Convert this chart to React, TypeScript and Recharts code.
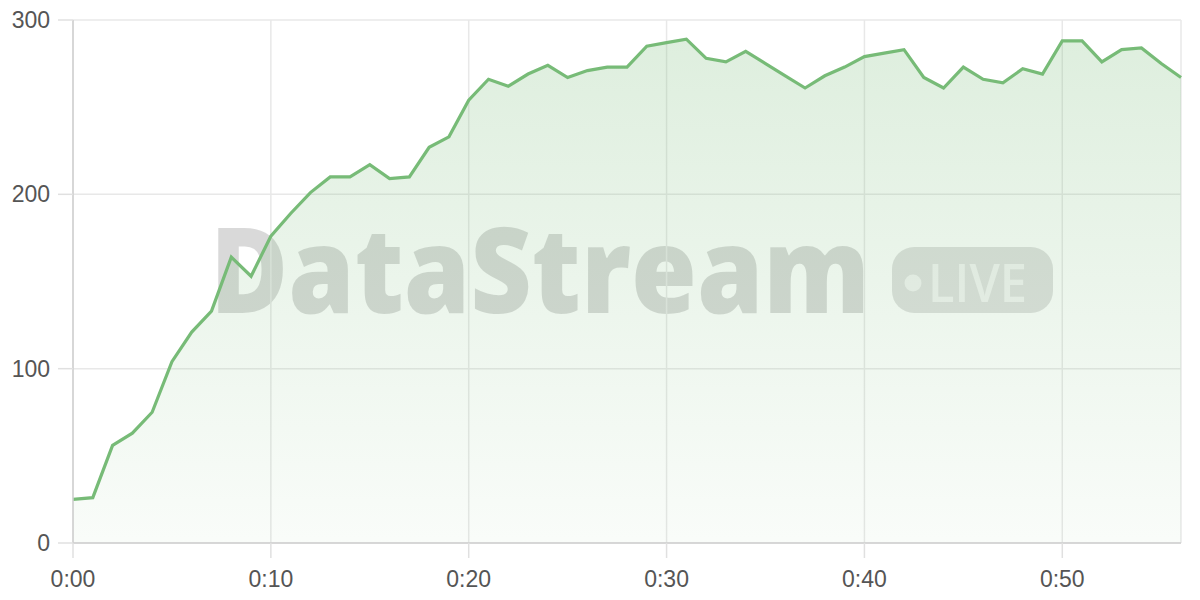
import React from 'react'
import { AreaChart, Area, XAxis, YAxis, CartesianGrid } from 'recharts'

// minutes since start of stream
const minutes = [
  0, 1, 2, 3, 4, 5, 6, 7, 8, 9, 10, 11, 12, 13, 14, 15, 16, 17, 18, 19, 20, 21, 22, 23, 24, 25, 26, 27, 28,
  29, 30, 31, 32, 33, 34, 35, 36, 37, 38, 39, 40, 41, 42, 43, 44, 45, 46, 47, 48, 49, 50, 51, 52, 53, 54,
  55, 56,
]

// live viewers
const viewers = [
  25, 26, 56, 63, 75, 104, 121, 133, 164, 153, 176, 189, 201, 210, 210, 217, 209, 210, 227, 233, 254, 266,
  262, 269, 274, 267, 271, 273, 273, 285, 287, 289, 278, 276, 282, 275, 268, 261, 268, 273, 279, 281, 283,
  267, 261, 273, 266, 264, 272, 269, 288, 288, 276, 283, 284, 275, 267,
]

const xTicks = [0, 10, 20, 30, 40, 50]
const xTickLabels = ['0:00', '0:10', '0:20', '0:30', '0:40', '0:50']
const yTicks = [0, 100, 200, 300]

const data = minutes.map((m, i) => ({ minute: m, viewers: viewers[i] }))

const tickStyle = { fill: '#555', fontSize: 23, fontFamily: 'Liberation Sans, Arial, sans-serif' }

export default function App() {
  return (
    <div style={{ position: 'absolute', left: 0, top: 0, width: 1200, height: 600, background: '#fff' }}>
      {/* watermark sits behind the chart so the area tints it */}
      <svg width={1200} height={600} style={{ position: 'absolute', left: 0, top: 0 }}>
        <text
          x={210}
          y={313}
          fontSize={118}
          fontWeight={800}
          fontFamily='Open Sans, Noto Sans, sans-serif'
          fill='rgba(0,0,0,0.15)'
          textLength={660}
          lengthAdjust='spacingAndGlyphs'
        >
          DataStream
        </text>
        <rect x={892} y={247} width={161} height={66} rx={22} fill='rgba(0,0,0,0.12)' />
        <circle cx={913} cy={283} r={8.5} fill='rgba(255,255,255,0.6)' />
        <text
          x={928}
          y={302}
          fontSize={52}
          fontWeight={600}
          fontFamily='Open Sans, Noto Sans, sans-serif'
          fill='rgba(255,255,255,0.6)'
          textLength={99}
          lengthAdjust='spacingAndGlyphs'
        >
          LIVE
        </text>
      </svg>
      <div style={{ position: 'absolute', left: 0, top: 0 }}>
        <AreaChart width={1200} height={600} data={data} margin={{ top: 20, right: 19, bottom: 0, left: 0 }}>
          <defs>
            <linearGradient id='viewersFill' x1='0' y1='0' x2='0' y2='1'>
              <stop offset='0%' stopColor='#76ba76' stopOpacity={0.4} />
              <stop offset='100%' stopColor='#76ba76' stopOpacity={0.07} />
            </linearGradient>
          </defs>
          <CartesianGrid stroke='#e8e8e8' strokeWidth={1.5} />
          <XAxis
            dataKey='minute'
            type='number'
            domain={[0, 56]}
            ticks={xTicks}
            tickFormatter={(m: number) => xTickLabels[xTicks.indexOf(m)] ?? ''}
            height={57}
            tickSize={15}
            tickMargin={13}
            tick={tickStyle}
            tickLine={{ stroke: '#e0e0e0', strokeWidth: 1.5 }}
            axisLine={{ stroke: '#cfcfcf', strokeWidth: 1.5 }}
          />
          <YAxis
            domain={[0, 300]}
            ticks={yTicks}
            width={73}
            tickSize={15}
            tickMargin={8}
            tick={tickStyle}
            tickLine={{ stroke: '#e0e0e0', strokeWidth: 1.5 }}
            axisLine={{ stroke: '#cfcfcf', strokeWidth: 1.5 }}
          />
          <Area
            type='linear'
            dataKey='viewers'
            stroke='#77bb77'
            strokeWidth={3.2}
            fill='url(#viewersFill)'
            dot={false}
            activeDot={false}
            isAnimationActive={false}
          />
        </AreaChart>
      </div>
    </div>
  )
}
